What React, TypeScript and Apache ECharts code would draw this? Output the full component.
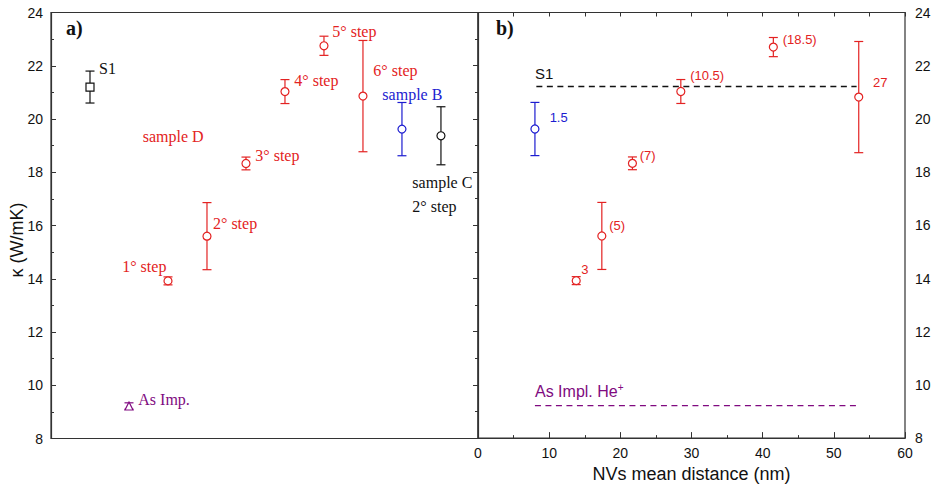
import React, { useEffect, useRef } from "react";
import * as echarts from "echarts";

// ---------- data ----------
// panel a) (positions are ordinal slots along the panel)
const s1Pos = [1];
const s1K = [21.2];
const s1Err = [0.6];
const s1Labels = ["S1"];

const asImpPos = [2];
const asImpK = [9.22];
const asImpErr = [0.12];
const asImpLabels = ["As Imp."];

const sampleDPos = [3, 4, 5, 6, 7, 8];
const sampleDK = [13.92, 15.6, 18.33, 21.03, 22.75, 20.86];
const sampleDErr = [0.15, 1.26, 0.24, 0.45, 0.36, 2.09];
const sampleDLabels = ["1° step", "2° step", "3° step", "4° step", "5° step", "6° step"];

const sampleBPos = [9];
const sampleBK = [19.62];
const sampleBErr = [1.0];
const sampleBLabels = ["sample B"];

const sampleCPos = [10];
const sampleCK = [19.37];
const sampleCErr = [1.09];
const sampleCLabels = ["sample C\n2° step"];

// panel b)
const nvBlueDist = [8.0];
const nvBlueK = [19.62];
const nvBlueErr = [1.0];
const nvBlueLabels = ["1.5"];

const nvRedDist = [13.8, 17.4, 21.7, 28.5, 41.5, 53.5];
const nvRedK = [13.92, 15.6, 18.33, 21.03, 22.7, 20.82];
const nvRedErr = [0.15, 1.26, 0.24, 0.45, 0.36, 2.09];
const nvRedLabels = ["3", "(5)", "(7)", "(10.5)", "(18.5)", "27"];

const s1LineX = [8.2, 53.2];
const s1LineK = [21.22, 21.22];
const asImplLineX = [8.0, 53.4];
const asImplLineK = [9.22, 9.22];

const yTicks = [8, 10, 12, 14, 16, 18, 20, 22, 24];
const xTicksNm = [0, 10, 20, 30, 40, 50, 60];

// ---------- layout / style ----------
const SERIF = '"Liberation Serif", "Times New Roman", serif';
const SANS = '"Liberation Sans", Arial, sans-serif';
const RED = "#e32222";
const BLUE = "#1c1cd0";
const PURPLE = "#800a80";
const BLACK = "#111";
const AXIS = "#333";

type LL = { dx: number; dy: number; align?: string; lh?: number };
const s1LabelLayout: LL[] = [{ dx: 9, dy: -19 }];
const asImpLabelLayout: LL[] = [{ dx: 9.3, dy: -6.7 }];
const sampleDLabelLayout: LL[] = [
  { dx: -1.6, dy: -14, align: "right" },
  { dx: 6, dy: -13 },
  { dx: 9.3, dy: -8 },
  { dx: 9.3, dy: -11 },
  { dx: 8.3, dy: -14.3 },
  { dx: 10.4, dy: -25.7 },
];
const sampleBLabelLayout: LL[] = [{ dx: 10.4, dy: -35, align: "center" }];
const sampleCLabelLayout: LL[] = [{ dx: -28.6, dy: 59, lh: 24 }];
const nvBlueLabelLayout: LL[] = [{ dx: 14.7, dy: -11.6 }];
const nvRedLabelLayout: LL[] = [
  { dx: 5, dy: -10.7 },
  { dx: 7.3, dy: -10.4 },
  { dx: 7.3, dy: -8.3 },
  { dx: 9.3, dy: -16.4 },
  { dx: 9.4, dy: -7.7 },
  { dx: 14.3, dy: -14.3 },
];

function errSeries(axis: number, xs: number[], ys: number[], es: number[], color: string) {
  return {
    type: "custom",
    xAxisIndex: axis === 0 ? 0 : 1,
    yAxisIndex: axis === 0 ? 0 : 1,
    silent: true,
    z: 2,
    encode: { x: 0, y: 1 },
    data: xs.map((x, i) => [x, ys[i], es[i]]),
    renderItem: (_p: any, api: any) => {
      const x = api.value(0);
      const y = api.value(1);
      const e = api.value(2);
      const t = api.coord([x, y + e]);
      const b = api.coord([x, y - e]);
      const h = 4.5;
      const style = { stroke: color, lineWidth: 1.2, fill: null };
      return {
        type: "group",
        children: [
          { type: "line", shape: { x1: t[0], y1: t[1], x2: b[0], y2: b[1] }, style },
          { type: "line", shape: { x1: t[0] - h, y1: t[1], x2: t[0] + h, y2: t[1] }, style },
          { type: "line", shape: { x1: b[0] - h, y1: b[1], x2: b[0] + h, y2: b[1] }, style },
        ],
      };
    },
  };
}

function pointSeries(
  axis: number,
  xs: number[],
  ys: number[],
  labels: string[],
  layout: LL[],
  color: string,
  symbol: string,
  font: string,
  fontSize: number
) {
  return {
    type: "scatter",
    xAxisIndex: axis === 0 ? 0 : 1,
    yAxisIndex: axis === 0 ? 0 : 1,
    symbol,
    symbolSize: 8,
    z: 3,
    silent: true,
    itemStyle: { color: "#fff", borderColor: color, borderWidth: 1.2, opacity: 1 },
    data: xs.map((x, i) => ({
      value: [x, ys[i]],
      label: {
        show: true,
        formatter: labels[i],
        position: "inside",
        align: layout[i].align || "left",
        verticalAlign: "middle",
        offset: [layout[i].dx, layout[i].dy],
        color,
        opacity: 1,
        fontFamily: font,
        fontSize,
        lineHeight: layout[i].lh || fontSize * 1.2,
        textBorderWidth: 0,
      },
    })),
  };
}

function dashedLine(xs: number[], ys: number[], color: string) {
  return {
    type: "line",
    xAxisIndex: 1,
    yAxisIndex: 1,
    symbol: "none",
    silent: true,
    z: 1,
    lineStyle: { color, width: 1.4, type: [6, 4.5] },
    data: xs.map((x, i) => [x, ys[i]]),
  };
}

const GRID_TOP = 12.5;
const GRID_H = 426;

export default function App() {
  const ref = useRef<HTMLDivElement>(null);
  useEffect(() => {
    if (!ref.current) return;
    const chart = echarts.init(ref.current, null, { renderer: "svg" });
    const yCommon = {
      type: "value",
      min: yTicks[0],
      max: yTicks[yTicks.length - 1],
      interval: 2,
      splitLine: { show: false },
      axisLine: { show: true, lineStyle: { color: AXIS, width: 1.2 } },
      axisTick: { show: true, inside: true, length: 5, lineStyle: { color: AXIS } },
      minorTick: { show: true, splitNumber: 2, length: 3, lineStyle: { color: AXIS } },
      axisLabel: { color: "#111", fontFamily: SANS, fontSize: 14 },
    };
    const option: any = {
      animation: false,
      backgroundColor: "#fff",
      grid: [
        { left: 51, top: GRID_TOP, width: 427, height: GRID_H, show: true, borderColor: AXIS, borderWidth: 1.2, backgroundColor: "transparent" },
        { left: 478, top: GRID_TOP, width: 427, height: GRID_H, show: true, borderColor: AXIS, borderWidth: 1.2, backgroundColor: "transparent" },
      ],
      xAxis: [
        {
          type: "value",
          gridIndex: 0,
          min: 0,
          max: 10.95,
          axisLine: { show: false },
          axisTick: { show: false },
          axisLabel: { show: false },
          splitLine: { show: false },
        },
        {
          type: "value",
          gridIndex: 1,
          min: xTicksNm[0],
          max: xTicksNm[xTicksNm.length - 1],
          interval: 10,
          position: "bottom",
          splitLine: { show: false },
          axisLine: { show: true, lineStyle: { color: AXIS, width: 1.2 } },
          axisTick: { show: true, inside: true, length: 6, lineStyle: { color: AXIS } },
          minorTick: { show: true, splitNumber: 2, length: 3, lineStyle: { color: AXIS } },
          axisLabel: { color: "#111", fontFamily: SANS, fontSize: 14, margin: 8 },
          name: "NVs mean distance (nm)",
          nameLocation: "middle",
          nameGap: 24,
          nameTextStyle: { color: "#111", fontFamily: SANS, fontSize: 18 },
        },
        {
          type: "value",
          gridIndex: 1,
          min: xTicksNm[0],
          max: xTicksNm[xTicksNm.length - 1],
          interval: 10,
          position: "top",
          splitLine: { show: false },
          axisLine: { show: true, lineStyle: { color: AXIS, width: 1.2 } },
          axisTick: { show: true, inside: true, length: 4, lineStyle: { color: AXIS } },
          minorTick: { show: true, splitNumber: 2, length: 4, lineStyle: { color: AXIS } },
          axisLabel: { show: false },
        },
      ],
      yAxis: [
        { ...yCommon, gridIndex: 0, position: "left", axisLabel: { ...yCommon.axisLabel, margin: 8 } },
        { ...yCommon, gridIndex: 1, position: "right", axisLabel: { ...yCommon.axisLabel, margin: 10 } },
      ],
      graphic: [
        { type: "text", left: 66, top: 18, style: { text: "a)", fontFamily: SERIF, fontWeight: "bold", fontSize: 20, fill: "#111" } },
        { type: "text", left: 496, top: 18, style: { text: "b)", fontFamily: SERIF, fontWeight: "bold", fontSize: 20, fill: "#111" } },
        { type: "text", x: 142.7, y: 136.7, style: { text: "sample D", fontFamily: SERIF, fontSize: 16, fill: RED, verticalAlign: "middle" } },
        { type: "text", x: 535, y: 73.3, style: { text: "S1", fontFamily: SANS, fontSize: 15, fill: BLACK, verticalAlign: "middle" } },
        {
          type: "text",
          x: 535,
          y: 391.7,
          style: {
            text: "As Impl. He{sup|+}",
            fontFamily: SANS,
            fontSize: 16,
            fill: PURPLE,
            verticalAlign: "middle",
            rich: { sup: { fontSize: 10, fill: PURPLE, verticalAlign: "top", padding: [0, 0, 8, 0], fontFamily: SANS } },
          },
        },
        {
          type: "text",
          x: 17,
          y: 240,
          rotation: Math.PI / 2,
          style: { text: "κ (W/mK)", fontFamily: SANS, fontSize: 18, fill: "#111", align: "center", verticalAlign: "middle" },
        },
      ],
      series: [
        dashedLine(s1LineX, s1LineK, BLACK),
        dashedLine(asImplLineX, asImplLineK, PURPLE),
        errSeries(0, s1Pos, s1K, s1Err, BLACK),
        errSeries(0, asImpPos, asImpK, asImpErr, PURPLE),
        errSeries(0, sampleDPos, sampleDK, sampleDErr, RED),
        errSeries(0, sampleBPos, sampleBK, sampleBErr, BLUE),
        errSeries(0, sampleCPos, sampleCK, sampleCErr, BLACK),
        errSeries(1, nvBlueDist, nvBlueK, nvBlueErr, BLUE),
        errSeries(1, nvRedDist, nvRedK, nvRedErr, RED),
        pointSeries(0, s1Pos, s1K, s1Labels, s1LabelLayout, BLACK, "rect", SERIF, 16),
        pointSeries(0, asImpPos, asImpK, asImpLabels, asImpLabelLayout, PURPLE, "triangle", SERIF, 16),
        pointSeries(0, sampleDPos, sampleDK, sampleDLabels, sampleDLabelLayout, RED, "circle", SERIF, 16),
        pointSeries(0, sampleBPos, sampleBK, sampleBLabels, sampleBLabelLayout, BLUE, "circle", SERIF, 16),
        pointSeries(0, sampleCPos, sampleCK, sampleCLabels, sampleCLabelLayout, BLACK, "circle", SERIF, 16),
        pointSeries(1, nvBlueDist, nvBlueK, nvBlueLabels, nvBlueLabelLayout, BLUE, "circle", SANS, 13),
        pointSeries(1, nvRedDist, nvRedK, nvRedLabels, nvRedLabelLayout, RED, "circle", SANS, 13),
      ],
    };
    chart.setOption(option);
    return () => chart.dispose();
  }, []);
  return <div ref={ref} style={{ width: 943, height: 488, position: "absolute", left: 0, top: 0 }} />;
}
